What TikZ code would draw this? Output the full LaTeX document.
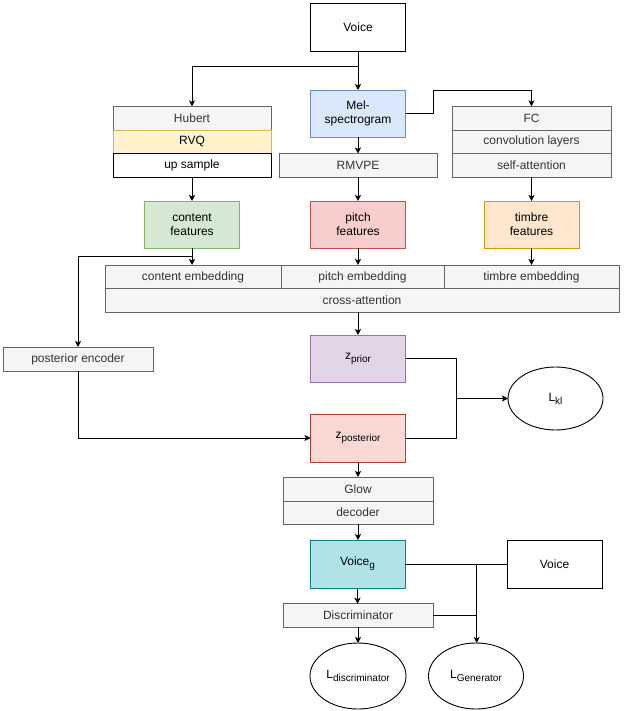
\documentclass[tikz,border=0pt]{standalone}
\usepackage{fontspec}
\setmainfont{Liberation Sans}
\usetikzlibrary{arrows.meta,shapes.geometric,calc}
\definecolor{gfill}{HTML}{F5F5F5}
\definecolor{gdraw}{HTML}{666666}
\definecolor{gtext}{HTML}{333333}
\definecolor{yfill}{HTML}{FFF2CC}
\definecolor{ydraw}{HTML}{D6B656}
\definecolor{bfill}{HTML}{DAE8FC}
\definecolor{bdraw}{HTML}{6C8EBF}
\definecolor{grfill}{HTML}{D5E8D4}
\definecolor{grdraw}{HTML}{82B366}
\definecolor{rfill}{HTML}{F8CECC}
\definecolor{rdraw}{HTML}{B85450}
\definecolor{ofill}{HTML}{FFE6CC}
\definecolor{odraw}{HTML}{D79B00}
\definecolor{pfill}{HTML}{E1D5E7}
\definecolor{pdraw}{HTML}{9673A6}
\definecolor{zfill}{HTML}{FAD9D5}
\definecolor{zdraw}{HTML}{AE4132}
\definecolor{tfill}{HTML}{B0E3E6}
\definecolor{tdraw}{HTML}{0E8088}
\newcommand\mysub[1]{\raisebox{-3pt}{\fontsize{10}{10}\selectfont #1}}
\begin{document}
\begin{tikzpicture}[x=1pt,y=-1pt,
  box/.style={draw, line width=0.9pt, rectangle, inner sep=0pt, outer sep=0pt, align=center,
    font=\fontsize{12}{14}\selectfont},
  gbox/.style={box, fill=gfill, draw=gdraw, text=gtext},
  wbox/.style={box, fill=white, draw=black},
  ell/.style={draw, line width=0.9pt, ellipse, inner sep=0pt, outer sep=0pt, fill=white,
    font=\fontsize{12}{14}\selectfont},
  arr/.style={-{Stealth[length=6pt,width=6pt,inset=1.5pt]}, line width=0.9pt},
  ln/.style={line width=0.9pt}]
\useasboundingbox (0,0) rectangle (623,711);

% top
\node[wbox, minimum width=95pt, minimum height=48pt] (voice) at (358,27) {Voice};
\node[gbox, minimum width=158pt, minimum height=23.6pt] (hubert) at (192,118.2) {Hubert};
\node[box, fill=yfill, draw=ydraw, minimum width=158pt, minimum height=23.6pt] (rvq) at (192,141.8) {RVQ};
\node[wbox, minimum width=158pt, minimum height=23.6pt] (upsample) at (192,165.3) {up sample};
\node[box, fill=bfill, draw=bdraw, minimum width=95pt, minimum height=47pt] (mel) at (358,113.5) {Mel-\\spectrogram};
\node[gbox, minimum width=158pt, minimum height=23.6pt] (rmvpe) at (358,165.3) {RMVPE};
\node[gbox, minimum width=159pt, minimum height=23.6pt] (fc) at (531.5,118.2) {FC};
\node[gbox, minimum width=159pt, minimum height=23.6pt] (conv) at (531.5,141.8) {convolution layers};
\node[gbox, minimum width=159pt, minimum height=23.6pt] (selfatt) at (531.5,165.3) {self-attention};

% features
\node[box, fill=grfill, draw=grdraw, minimum width=95pt, minimum height=47pt] (content) at (192,224.5) {content\\features};
\node[box, fill=rfill, draw=rdraw, minimum width=95pt, minimum height=47pt] (pitch) at (358,224.5) {pitch\\features};
\node[box, fill=ofill, draw=odraw, minimum width=95pt, minimum height=47pt] (timbre) at (531.5,224.5) {timbre\\features};

% embeddings
\node[gbox, minimum width=176pt, minimum height=24pt] (cemb) at (193,277) {content embedding};
\node[gbox, minimum width=163pt, minimum height=24pt] (pemb) at (362.5,277) {pitch embedding};
\node[gbox, minimum width=175pt, minimum height=24pt] (temb) at (531.5,277) {timbre embedding};
\node[gbox, minimum width=514pt, minimum height=23.5pt] (cross) at (362,300.5) {cross-attention};

% latent
\node[gbox, minimum width=150pt, minimum height=24pt] (post) at (78,359) {posterior encoder};
\node[box, fill=pfill, draw=pdraw, minimum width=95pt, minimum height=47pt] (zprior) at (358,358.5) {z\mysub{prior}};
\node[box, fill=zfill, draw=zdraw, minimum width=95pt, minimum height=48pt] (zpost) at (358,438) {z\mysub{posterior}};
\node[ell, minimum width=95pt, minimum height=63pt] (lkl) at (555.5,398.5) {L\mysub{kl}};

% decoder part
\node[gbox, minimum width=150pt, minimum height=24pt] (glow) at (358,489) {Glow};
\node[gbox, minimum width=150pt, minimum height=23.5pt] (decoder) at (358,512.7) {decoder};
\node[box, fill=tfill, draw=tdraw, minimum width=95pt, minimum height=48pt] (voiceg) at (357.5,564) {Voice\mysub{g}};
\node[wbox, minimum width=95pt, minimum height=48pt] (voice2) at (554.5,564) {Voice};
\node[gbox, minimum width=150pt, minimum height=23.5pt] (disc) at (358,615.5) {Discriminator};
\node[ell, minimum width=96pt, minimum height=66pt] (ldisc) at (358,676) {L\mysub{discriminator}};
\node[ell, minimum width=95pt, minimum height=66pt] (lgen) at (476,676) {L\mysub{Generator}};

% coordinates
\coordinate (b1) at (358,66.7);
\coordinate (m1) at (433.3,113.5);
\coordinate (m2) at (433.3,90.7);
\coordinate (c1) at (192,256);
\coordinate (c2) at (78,256);
\coordinate (p1) at (78,438);
\coordinate (j1) at (456,398.5);
\coordinate (j2) at (476.7,564);
\coordinate (j3) at (476.7,615.5);

% connectors
\draw[ln] (voice.south) -- (b1);
\draw[arr] (b1) -| (hubert.north);
\draw[arr] (b1) -- (mel.north);
\draw[arr] (mel.east) -- (m1) -- (m2) -| (fc.north);
\draw[arr] (mel.south) -- (rmvpe.north);
\draw[arr] (upsample.south) -- (content.north);
\draw[arr] (rmvpe.south) -- (pitch.north);
\draw[arr] (selfatt.south) -- (timbre.north);
\draw[arr] (content.south) -- (content.south |- cemb.north);
\draw[arr] (c1) -- (c2) -- (post.north);
\draw[arr] (pitch.south) -- (pitch.south |- pemb.north);
\draw[arr] (timbre.south) -- (timbre.south |- temb.north);
\draw[arr] (zprior.north |- cross.south) -- (zprior.north);
\draw[arr] (post.south) -- (p1) -- (zpost.west);
\draw[ln] (zprior.east) -| (j1);
\draw[ln] (zpost.east) -| (j1);
\draw[arr] (j1) -- (lkl.west);
\draw[arr] (zpost.south) -- (glow.north);
\draw[arr] (decoder.south) -- (decoder.south |- voiceg.north);
\draw[arr] (voiceg.south) -- (voiceg.south |- disc.north);
\draw[arr] (disc.south) -- (ldisc.north);
\draw[ln] (voiceg.east) -- (voice2.west);
\draw[ln] (disc.east) -- (j3);
\draw[arr] (j2) -- (j2 |- lgen.north);
\end{tikzpicture}
\end{document}
